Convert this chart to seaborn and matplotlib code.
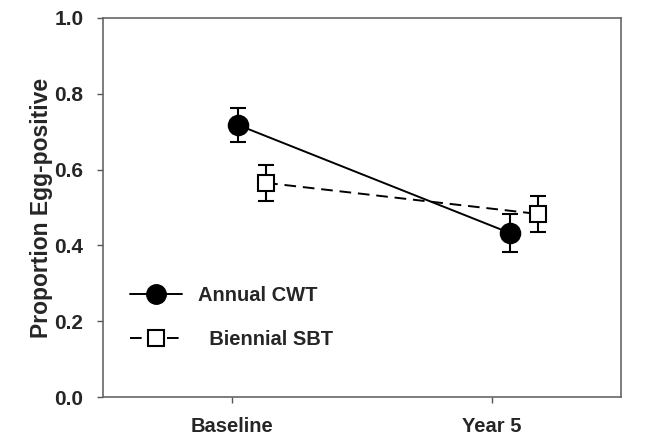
import matplotlib
matplotlib.use("Agg")
import matplotlib.pyplot as plt
import seaborn as sns
import pandas as pd
from matplotlib.lines import Line2D

# values
timepoints = ["Baseline", "Year 5"]
groups = ["Annual CWT", "Biennial SBT"]
cwt_mean = [0.718, 0.433]
cwt_err = [0.044, 0.050]
sbt_mean = [0.565, 0.483]
sbt_err = [0.047, 0.048]

# small horizontal shifts so the two series don't overlap
shift = {"Annual CWT": [0.02, 0.07], "Biennial SBT": [0.13, 0.18]}

rows = []
for g, m, e in [("Annual CWT", cwt_mean, cwt_err), ("Biennial SBT", sbt_mean, sbt_err)]:
    for i, t in enumerate(timepoints):
        rows.append({"group": g, "time": t, "x": i + shift[g][i], "y": m[i], "err": e[i]})
df = pd.DataFrame(rows)

sns.set_style("ticks")
plt.rcParams["font.family"] = ["Liberation Sans", "DejaVu Sans"]
plt.rcParams["font.weight"] = "bold"

fig, ax = plt.subplots(figsize=(6.47, 4.36), dpi=100)
fig.subplots_adjust(left=0.159, right=0.960, top=0.959, bottom=0.089)

dash = (0, (6, 3.5))
style = {
    "Annual CWT": dict(marker="o", ms=14, mfc="black", ls="-"),
    "Biennial SBT": dict(marker="s", ms=12, mfc="white", ls=dash),
}

sns.lineplot(data=df, x="x", y="y", hue="group", palette=["black", "black"],
             legend=False, ax=ax, sort=False, linewidth=1.4)
for line, g in zip(ax.lines, groups):
    line.set_linestyle(style[g]["ls"])

for g in groups:
    sub = df[df.group == g]
    ax.errorbar(sub.x, sub.y, yerr=sub.err, fmt="none", ecolor="black",
                elinewidth=1.5, capsize=6, capthick=1.5, zorder=3)
    ax.plot(sub.x, sub.y, ls="none", marker=style[g]["marker"], ms=style[g]["ms"],
            mfc=style[g]["mfc"], mec="black", mew=1.5, zorder=4)

ax.set_xlim(-0.5, 1.5)
ax.set_ylim(0, 1.0)
ax.set_xticks([0, 1])
ax.set_xticklabels(timepoints, fontsize=14.5, fontweight="bold")
ax.set_yticks([0, 0.2, 0.4, 0.6, 0.8, 1.0])
ax.set_yticklabels(["0.0", "0.2", "0.4", "0.6", "0.8", "1.0"], fontsize=15, fontweight="bold")
ax.tick_params(axis="both", direction="out", length=4, color="#555555", width=1)
ax.tick_params(axis="x", pad=10)
ax.tick_params(axis="y", pad=10)
ax.set_xlabel("")
ax.set_ylabel("Proportion Egg-positive", fontsize=16.5, fontweight="bold", labelpad=1)
for sp in ax.spines.values():
    sp.set_visible(True)
    sp.set_color("#666666")
    sp.set_linewidth(1.2)

handles = [
    Line2D([], [], color="black", lw=1.4, ls="-", marker="o", ms=14, mfc="black", mec="black"),
    Line2D([], [], color="black", lw=1.4, ls=dash, marker="s", ms=12, mfc="white", mec="black", mew=1.5),
]
ax.legend(handles, [groups[0], "  " + groups[1]], loc="center left",
          bbox_to_anchor=(0.052, 0.21), borderaxespad=0, borderpad=0, frameon=False,
          handlelength=2.6, handletextpad=0.8, labelspacing=1.2,
          prop={"weight": "bold", "size": 14.5})

fig.savefig("out.png", dpi=100)
